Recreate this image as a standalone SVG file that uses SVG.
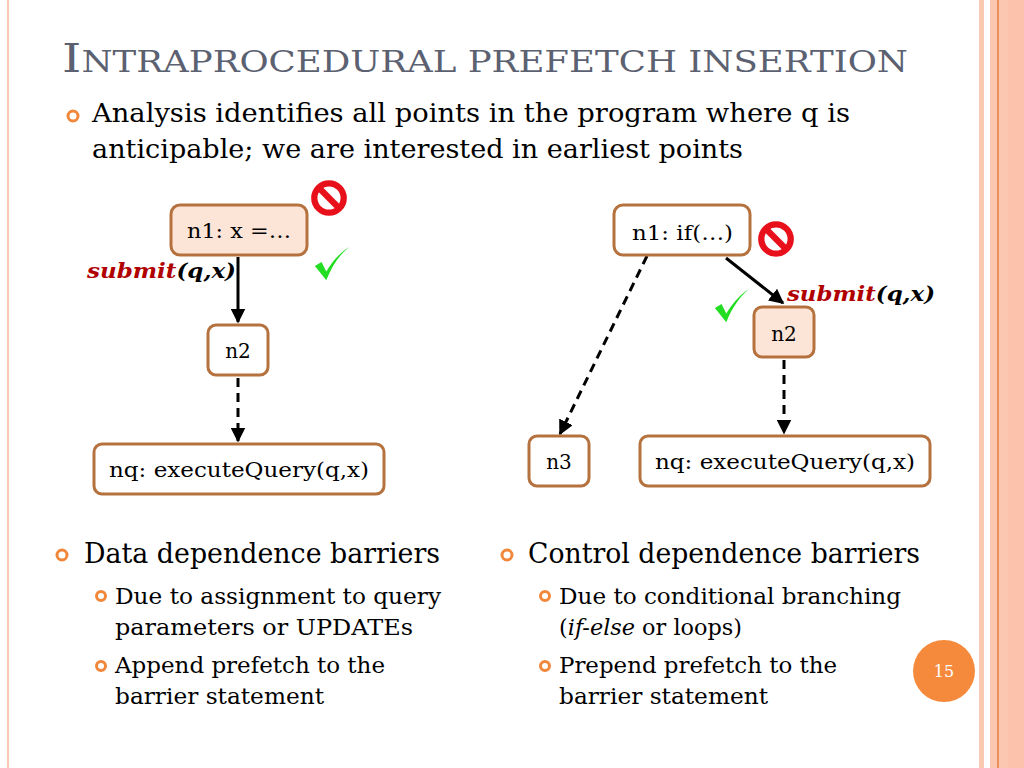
<svg xmlns="http://www.w3.org/2000/svg" width="1024" height="768" viewBox="0 0 1024 768">
<defs>
<style>
text{font-family:"DejaVu Serif","Liberation Serif",serif;fill:#000}
.title{fill:#5b6170}
.node{stroke:#b5723f;stroke-width:3}
.lbl{font-size:20px}
.b0{font-size:26px}
.b1{font-size:27px}
.b2{font-size:23px}
.sub{font-size:20px;font-weight:bold;font-style:italic}
.e{stroke:#000;stroke-width:3;fill:none}
.d{stroke-dasharray:9 6}
.bul{fill:none;stroke:#f0873a;stroke-width:3}
</style>
<marker id="ah" viewBox="0 0 10 10" refX="9" refY="5" markerWidth="5" markerHeight="5" orient="auto" markerUnits="strokeWidth"><path d="M0,0L10,5L0,10z" fill="#000"/></marker>
<symbol id="no" viewBox="-20 -20 40 40"><circle r="14" fill="none" stroke="#e8101a" stroke-width="6"/><line x1="-9" y1="-9" x2="9" y2="9" stroke="#e8101a" stroke-width="6"/></symbol>
<symbol id="ok" viewBox="0 0 40 40"><path d="M2,22 L14,37 C20,22 28,10 38,2 C27,9 19,19 14,28 L9,18 Z" fill="#22dd22"/></symbol>
</defs>
<rect width="1024" height="768" fill="#fff"/>
<rect x="7" y="0" width="2" height="768" fill="#f8c8b4"/>
<rect x="979" y="0" width="5" height="768" fill="#f9c9b2"/>
<rect x="990" y="0" width="34" height="768" fill="#fcc7b0"/>
<rect x="997" y="0" width="2" height="768" fill="#e8915f"/>
<rect x="1008" y="0" width="16" height="768" fill="#fdc2ab"/>

<text class="title" x="62" y="72" textLength="846" lengthAdjust="spacingAndGlyphs"><tspan font-size="40">I</tspan><tspan font-size="29">NTRAPROCEDURAL PREFETCH INSERTION</tspan></text>
<circle class="bul" cx="73" cy="116" r="5"/>
<text class="b0" x="92" y="122" textLength="758" lengthAdjust="spacingAndGlyphs">Analysis identifies all points in the program where q is</text>
<text class="b0" x="92" y="158" textLength="651" lengthAdjust="spacingAndGlyphs">anticipable; we are interested in earliest points</text>

<g id="connectors">
<line class="e" x1="238" y1="257" x2="238" y2="322" marker-end="url(#ah)"/>
<line class="e d" x1="238" y1="378" x2="238" y2="441" marker-end="url(#ah)"/>
<line class="e d" x1="647" y1="256" x2="560" y2="434" marker-end="url(#ah)"/>
<line class="e" x1="726" y1="258" x2="783" y2="303" marker-end="url(#ah)"/>
<line class="e d" x1="784" y1="360" x2="784" y2="433" marker-end="url(#ah)"/>
</g>

<g id="l_n1"><rect class="node" x="171" y="205" width="136" height="50" rx="9" fill="#fce4d6"/><text class="lbl" x="187" y="238" textLength="104" lengthAdjust="spacingAndGlyphs">n1: x =…</text></g>
<g id="l_n2"><rect class="node" x="208" y="325" width="60" height="50" rx="8" fill="#fff"/><text class="lbl" x="238" y="358" text-anchor="middle">n2</text></g>
<g id="l_nq"><rect class="node" x="94" y="444" width="290" height="50" rx="8" fill="#fff"/><text class="lbl" x="109" y="477" textLength="260" lengthAdjust="spacingAndGlyphs">nq: executeQuery(q,x)</text></g>
<text class="sub" x="87" y="278" textLength="149" lengthAdjust="spacingAndGlyphs"><tspan style="fill:#b00000">submit</tspan>(q,x)</text>
<use href="#no" x="308" y="177" width="42" height="42"/>
<use href="#ok" x="313" y="245" width="38" height="38"/>

<g id="r_n1"><rect class="node" x="614" y="205" width="136" height="50" rx="9" fill="#fff"/><text class="lbl" x="632" y="240" textLength="101" lengthAdjust="spacingAndGlyphs">n1: if(…)</text></g>
<g id="r_n2"><rect class="node" x="754" y="307" width="60" height="50" rx="8" fill="#fce4d6"/><text class="lbl" x="784" y="341" text-anchor="middle">n2</text></g>
<g id="r_n3"><rect class="node" x="529" y="436" width="60" height="50" rx="8" fill="#fff"/><text class="lbl" x="559" y="469" text-anchor="middle">n3</text></g>
<g id="r_nq"><rect class="node" x="640" y="436" width="290" height="50" rx="8" fill="#fff"/><text class="lbl" x="655" y="469" textLength="260" lengthAdjust="spacingAndGlyphs">nq: executeQuery(q,x)</text></g>
<text class="sub" x="787" y="301" textLength="148" lengthAdjust="spacingAndGlyphs"><tspan style="fill:#b00000">submit</tspan>(q,x)</text>
<use href="#no" x="755" y="218" width="42" height="42"/>
<use href="#ok" x="713" y="287" width="38" height="38"/>

<circle class="bul" cx="62" cy="555" r="5"/>
<text class="b1" x="84" y="563" textLength="356" lengthAdjust="spacingAndGlyphs">Data dependence barriers</text>
<circle class="bul" cx="101" cy="596" r="4.5"/>
<text class="b2" x="115" y="604" textLength="326" lengthAdjust="spacingAndGlyphs">Due to assignment to query</text>
<text class="b2" x="115" y="635" textLength="298" lengthAdjust="spacingAndGlyphs">parameters or UPDATEs</text>
<circle class="bul" cx="101" cy="666" r="4.5"/>
<text class="b2" x="115" y="673" textLength="270" lengthAdjust="spacingAndGlyphs">Append prefetch to the</text>
<text class="b2" x="115" y="704" textLength="209" lengthAdjust="spacingAndGlyphs">barrier statement</text>

<circle class="bul" cx="507" cy="555" r="5"/>
<text class="b1" x="528" y="563" textLength="392" lengthAdjust="spacingAndGlyphs">Control dependence barriers</text>
<circle class="bul" cx="545" cy="596" r="4.5"/>
<text class="b2" x="559" y="604" textLength="342" lengthAdjust="spacingAndGlyphs">Due to conditional branching</text>
<text class="b2" x="559" y="635" textLength="183" lengthAdjust="spacingAndGlyphs">(<tspan font-style="italic">if-else</tspan> or loops)</text>
<circle class="bul" cx="545" cy="666" r="4.5"/>
<text class="b2" x="559" y="673" textLength="278" lengthAdjust="spacingAndGlyphs">Prepend prefetch to the</text>
<text class="b2" x="559" y="704" textLength="209" lengthAdjust="spacingAndGlyphs">barrier statement</text>

<circle cx="944" cy="671" r="31" fill="#f58a3c"/>
<text x="944" y="677" font-size="16" style="fill:#fff" text-anchor="middle">15</text>
</svg>
